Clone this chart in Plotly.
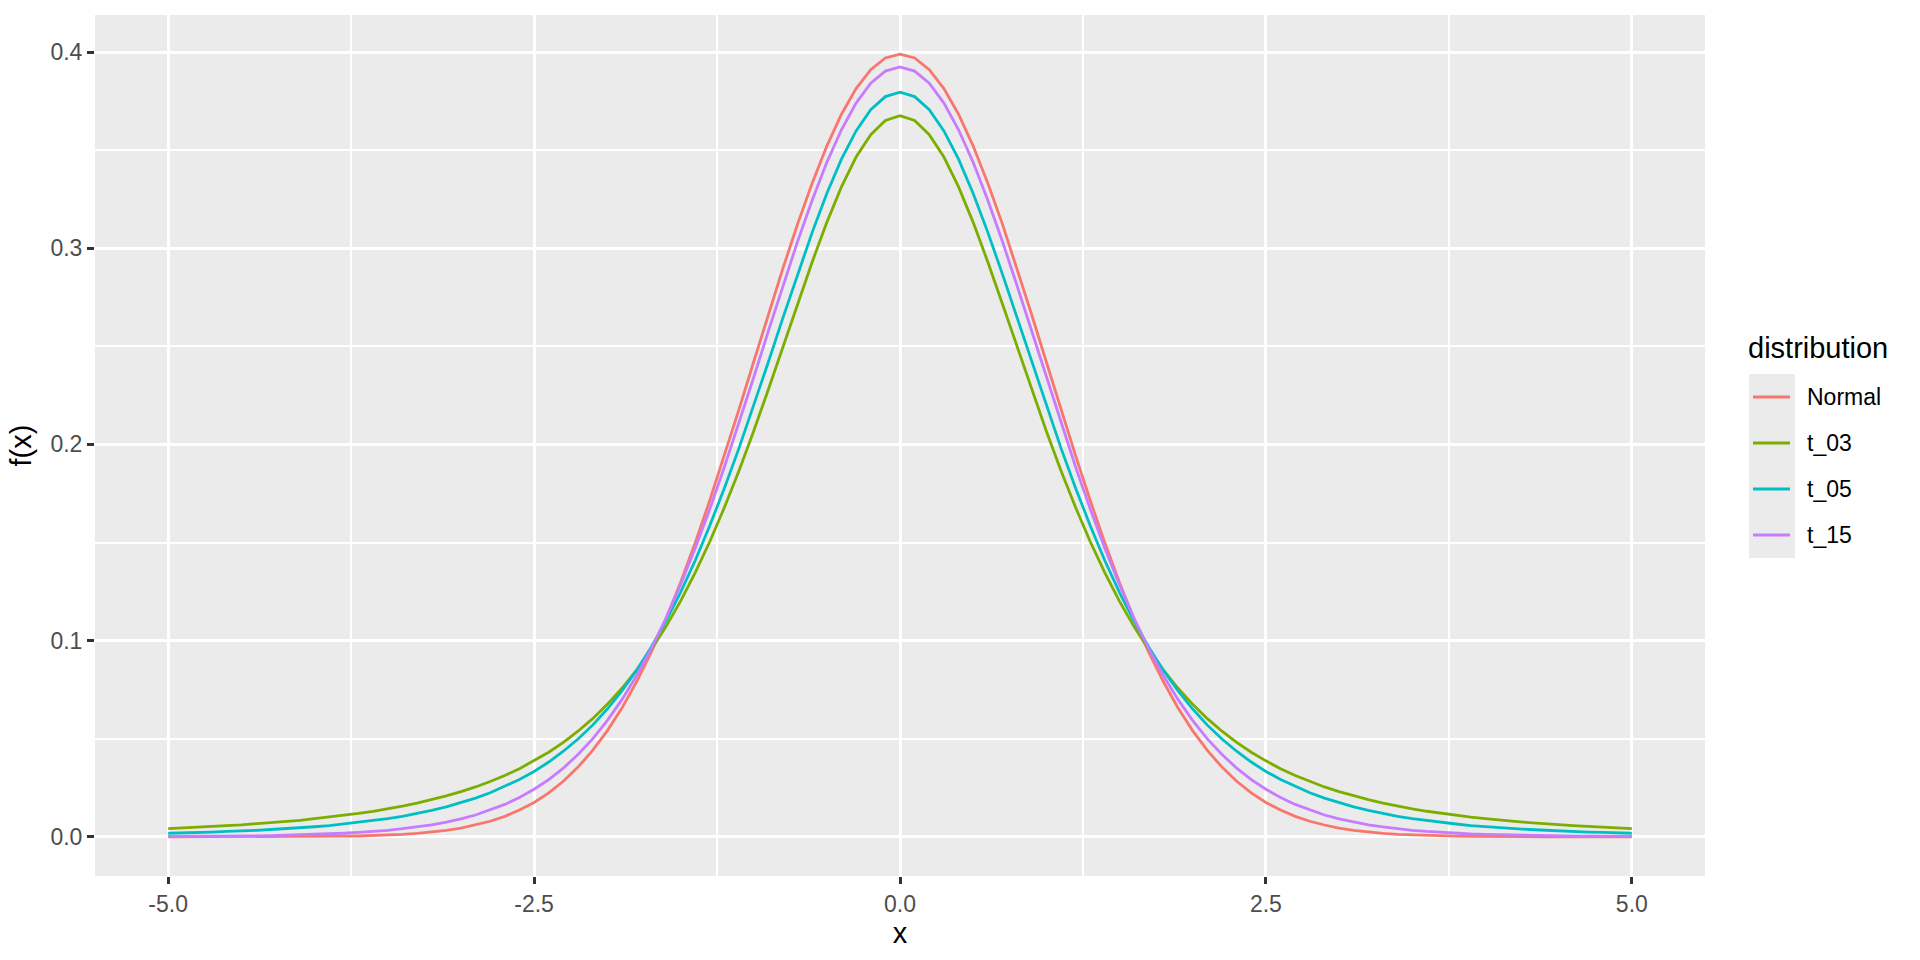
import plotly.graph_objects as go

# ---------------- data ----------------
x_vals = [
    -5.0, -4.9, -4.8, -4.7, -4.6, -4.5, -4.4, -4.3, -4.2, -4.1,
    -4.0, -3.9, -3.8, -3.7, -3.6, -3.5, -3.4, -3.3, -3.2, -3.1,
    -3.0, -2.9, -2.8, -2.7, -2.6, -2.5, -2.4, -2.3, -2.2, -2.1,
    -2.0, -1.9, -1.8, -1.7, -1.6, -1.5, -1.4, -1.3, -1.2, -1.1,
    -1.0, -0.9, -0.8, -0.7, -0.6, -0.5, -0.4, -0.3, -0.2, -0.1,
    0.0, 0.1, 0.2, 0.3, 0.4, 0.5, 0.6, 0.7, 0.8, 0.9,
    1.0, 1.1, 1.2, 1.3, 1.4, 1.5, 1.6, 1.7, 1.8, 1.9,
    2.0, 2.1, 2.2, 2.3, 2.4, 2.5, 2.6, 2.7, 2.8, 2.9,
    3.0, 3.1, 3.2, 3.3, 3.4, 3.5, 3.6, 3.7, 3.8, 3.9,
    4.0, 4.1, 4.2, 4.3, 4.4, 4.5, 4.6, 4.7, 4.8, 4.9, 5.0,
]

normal_y = [
    0.0000, 0.0000, 0.0000, 0.0000, 0.0000, 0.0000, 0.0000, 0.0000, 0.0001, 0.0001,
    0.0001, 0.0002, 0.0003, 0.0004, 0.0006, 0.0009, 0.0012, 0.0017, 0.0024, 0.0033,
    0.0044, 0.0060, 0.0079, 0.0104, 0.0136, 0.0175, 0.0224, 0.0283, 0.0355, 0.0440,
    0.0540, 0.0656, 0.0790, 0.0940, 0.1109, 0.1295, 0.1497, 0.1714, 0.1942, 0.2179,
    0.2420, 0.2661, 0.2897, 0.3123, 0.3332, 0.3521, 0.3683, 0.3814, 0.3910, 0.3970,
    0.3989, 0.3970, 0.3910, 0.3814, 0.3683, 0.3521, 0.3332, 0.3123, 0.2897, 0.2661,
    0.2420, 0.2179, 0.1942, 0.1714, 0.1497, 0.1295, 0.1109, 0.0940, 0.0790, 0.0656,
    0.0540, 0.0440, 0.0355, 0.0283, 0.0224, 0.0175, 0.0136, 0.0104, 0.0079, 0.0060,
    0.0044, 0.0033, 0.0024, 0.0017, 0.0012, 0.0009, 0.0006, 0.0004, 0.0003, 0.0002,
    0.0001, 0.0001, 0.0001, 0.0000, 0.0000, 0.0000, 0.0000, 0.0000, 0.0000, 0.0000, 0.0000,
]

t03_y = [
    0.0042, 0.0045, 0.0049, 0.0053, 0.0057, 0.0061, 0.0066, 0.0072, 0.0078, 0.0084,
    0.0092, 0.0100, 0.0109, 0.0119, 0.0130, 0.0142, 0.0156, 0.0171, 0.0189, 0.0208,
    0.0230, 0.0254, 0.0282, 0.0312, 0.0347, 0.0387, 0.0431, 0.0481, 0.0538, 0.0602,
    0.0675, 0.0757, 0.0850, 0.0954, 0.1070, 0.1200, 0.1345, 0.1504, 0.1678, 0.1866,
    0.2067, 0.2279, 0.2497, 0.2716, 0.2930, 0.3132, 0.3313, 0.3465, 0.3579, 0.3651,
    0.3676, 0.3651, 0.3579, 0.3465, 0.3313, 0.3132, 0.2930, 0.2716, 0.2497, 0.2279,
    0.2067, 0.1866, 0.1678, 0.1504, 0.1345, 0.1200, 0.1070, 0.0954, 0.0850, 0.0757,
    0.0675, 0.0602, 0.0538, 0.0481, 0.0431, 0.0387, 0.0347, 0.0312, 0.0282, 0.0254,
    0.0230, 0.0208, 0.0189, 0.0171, 0.0156, 0.0142, 0.0130, 0.0119, 0.0109, 0.0100,
    0.0092, 0.0084, 0.0078, 0.0072, 0.0066, 0.0061, 0.0057, 0.0053, 0.0049, 0.0045, 0.0042,
]

t05_y = [
    0.0018, 0.0019, 0.0022, 0.0024, 0.0027, 0.0029, 0.0033, 0.0037, 0.0041, 0.0046,
    0.0051, 0.0057, 0.0065, 0.0073, 0.0082, 0.0092, 0.0104, 0.0118, 0.0134, 0.0152,
    0.0173, 0.0197, 0.0224, 0.0256, 0.0292, 0.0333, 0.0381, 0.0436, 0.0498, 0.0569,
    0.0651, 0.0743, 0.0848, 0.0966, 0.1098, 0.1245, 0.1407, 0.1585, 0.1777, 0.1981,
    0.2197, 0.2419, 0.2645, 0.2868, 0.3081, 0.3279, 0.3454, 0.3598, 0.3706, 0.3773,
    0.3796, 0.3773, 0.3706, 0.3598, 0.3454, 0.3279, 0.3081, 0.2868, 0.2645, 0.2419,
    0.2197, 0.1981, 0.1777, 0.1585, 0.1407, 0.1245, 0.1098, 0.0966, 0.0848, 0.0743,
    0.0651, 0.0569, 0.0498, 0.0436, 0.0381, 0.0333, 0.0292, 0.0256, 0.0224, 0.0197,
    0.0173, 0.0152, 0.0134, 0.0118, 0.0104, 0.0092, 0.0082, 0.0073, 0.0065, 0.0057,
    0.0051, 0.0046, 0.0041, 0.0037, 0.0033, 0.0029, 0.0027, 0.0024, 0.0022, 0.0019, 0.0018,
]

t15_y = [
    0.0002, 0.0002, 0.0002, 0.0003, 0.0003, 0.0004, 0.0005, 0.0006, 0.0008, 0.0010,
    0.0012, 0.0014, 0.0018, 0.0022, 0.0027, 0.0033, 0.0041, 0.0050, 0.0061, 0.0075,
    0.0091, 0.0111, 0.0136, 0.0165, 0.0200, 0.0242, 0.0291, 0.0350, 0.0419, 0.0499,
    0.0592, 0.0699, 0.0821, 0.0958, 0.1112, 0.1283, 0.1469, 0.1670, 0.1885, 0.2109,
    0.2341, 0.2576, 0.2809, 0.3034, 0.3245, 0.3438, 0.3604, 0.3740, 0.3841, 0.3903,
    0.3924, 0.3903, 0.3841, 0.3740, 0.3604, 0.3438, 0.3245, 0.3034, 0.2809, 0.2576,
    0.2341, 0.2109, 0.1885, 0.1670, 0.1469, 0.1283, 0.1112, 0.0958, 0.0821, 0.0699,
    0.0592, 0.0499, 0.0419, 0.0350, 0.0291, 0.0242, 0.0200, 0.0165, 0.0136, 0.0111,
    0.0091, 0.0075, 0.0061, 0.0050, 0.0041, 0.0033, 0.0027, 0.0022, 0.0018, 0.0014,
    0.0012, 0.0010, 0.0008, 0.0006, 0.0005, 0.0004, 0.0003, 0.0003, 0.0002, 0.0002, 0.0002,
]

series_names = ["Normal", "t_03", "t_05", "t_15"]
series_values = [normal_y, t03_y, t05_y, t15_y]
series_colors = ["#F8766D", "#7CAE00", "#00BFC4", "#C77CFF"]

x_tick_vals = [-5.0, -2.5, 0.0, 2.5, 5.0]
x_tick_text = ["-5.0", "-2.5", "0.0", "2.5", "5.0"]
y_tick_vals = [0.0, 0.1, 0.2, 0.3, 0.4]
y_tick_text = ["0.0", "0.1", "0.2", "0.3", "0.4"]

legend_title = "distribution"
x_title = "x"
y_title = "f(x)"

# ---------------- figure ----------------
W, H = 1920, 960
ML, MR, MT, MB = 95, 215, 15, 84
FONT = "Liberation Sans, Arial, Helvetica, sans-serif"
LW = 2.8

fig = go.Figure()
for name, vals, col in zip(series_names, series_values, series_colors):
    fig.add_trace(go.Scatter(
        x=x_vals, y=vals, mode="lines", name=name,
        line=dict(color=col, width=LW), showlegend=False,
    ))

xr = [-5.5, 5.5]
yr = [-0.02, 0.4189]

fig.update_layout(
    width=W, height=H,
    margin=dict(l=ML, r=MR, t=MT, b=MB),
    paper_bgcolor="white",
    plot_bgcolor="#EBEBEB",
    font=dict(family=FONT),
    hovermode=False,
    xaxis=dict(
        range=xr, tickmode="array", tickvals=x_tick_vals, ticktext=x_tick_text,
        showgrid=True, gridcolor="white", gridwidth=3, zeroline=False,
        ticks="outside", ticklen=7, tickwidth=2.5, tickcolor="#333333",
        tickfont=dict(size=23, color="#4D4D4D", family=FONT),
        minor=dict(tickmode="array", tickvals=[-3.75, -1.25, 1.25, 3.75],
                   showgrid=True, gridcolor="white", gridwidth=1.5, ticks=""),
        title=dict(text=x_title, font=dict(size=29, color="black", family=FONT), standoff=3),
        showline=False,
    ),
    yaxis=dict(
        range=yr, tickmode="array", tickvals=y_tick_vals, ticktext=y_tick_text,
        showgrid=True, gridcolor="white", gridwidth=3, zeroline=False,
        ticks="outside", ticklen=7, tickwidth=2.5, tickcolor="#333333",
        tickfont=dict(size=23, color="#4D4D4D", family=FONT),
        minor=dict(tickmode="array", tickvals=[0.05, 0.15, 0.25, 0.35],
                   showgrid=True, gridcolor="white", gridwidth=1.5, ticks=""),
        title=dict(text=y_title, font=dict(size=29, color="black", family=FONT), standoff=10),
        showline=False,
    ),
)

# ---------------- manual ggplot-style legend ----------------
pw = W - ML - MR
ph = H - MT - MB

def px_x(p):
    return (p - ML) / pw

def px_y(p):
    return (H - MB - p) / ph

key_left, key_right = 1749, 1795
key_top, key_bottom = 374, 558
row_y0, row_step = 397, 46
line_x0, line_x1 = 1753, 1790
label_x = 1806

fig.add_shape(type="rect", xref="paper", yref="paper",
              x0=px_x(key_left), x1=px_x(key_right),
              y0=px_y(key_bottom), y1=px_y(key_top),
              fillcolor="#EBEBEB", line=dict(width=0), layer="below")

fig.add_annotation(xref="paper", yref="paper", x=px_x(key_left - 2), y=px_y(348),
                   xanchor="left", yanchor="middle", showarrow=False, borderpad=0,
                   text=legend_title, font=dict(size=29, color="black", family=FONT))

for i, (name, col) in enumerate(zip(series_names, series_colors)):
    yy = row_y0 + i * row_step
    fig.add_shape(type="line", xref="paper", yref="paper",
                  x0=px_x(line_x0), x1=px_x(line_x1), y0=px_y(yy), y1=px_y(yy),
                  line=dict(color=col, width=LW))
    fig.add_annotation(xref="paper", yref="paper", x=px_x(label_x), y=px_y(yy),
                       xanchor="left", yanchor="middle", showarrow=False, borderpad=0,
                       text=name, font=dict(size=23, color="black", family=FONT))

fig.write_html(
    "out.html",
    config={"displayModeBar": False},
    post_script="document.body.style.margin='0';document.body.style.overflow='hidden';",
)
